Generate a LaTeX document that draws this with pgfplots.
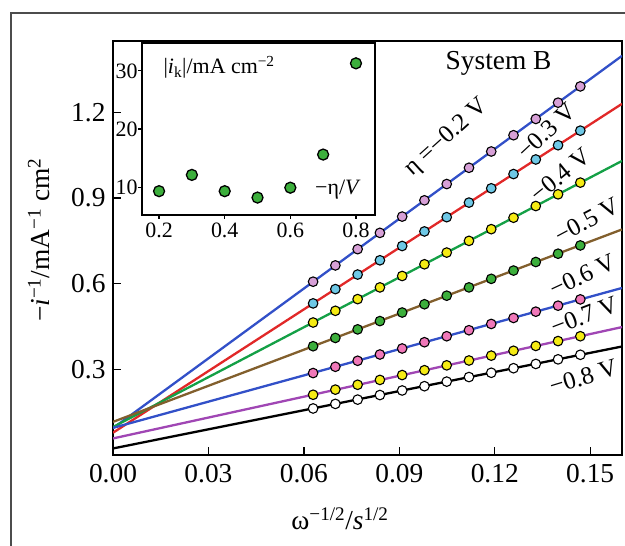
\documentclass[border=0pt]{standalone}
\usepackage{pgfplots}
\pgfplotsset{compat=1.18}
\usepackage{fontspec}
\setmainfont{Liberation Serif}

\definecolor{lblue}{RGB}{50,80,200}
\definecolor{lred}{RGB}{225,40,40}
\definecolor{lgreen}{RGB}{20,160,70}
\definecolor{lbrown}{RGB}{130,95,45}
\definecolor{lpurple}{RGB}{160,70,180}
\definecolor{mpink}{RGB}{215,160,215}
\definecolor{mcyan}{RGB}{110,200,230}
\definecolor{myellow}{RGB}{245,235,20}
\definecolor{mgreen}{RGB}{60,175,60}
\definecolor{mrose}{RGB}{240,120,185}

\newcommand\fbig{\fontsize{27.5}{32}\selectfont}
\newcommand\fmid{\fontsize{25}{29}\selectfont}
\newcommand\fsmall{\fontsize{22}{26}\selectfont}

\pgfplotsset{
  ln/.style={line width=2.3bp, #1},
  mk/.style={only marks, mark=*, mark size=4.8bp,
    mark options={fill=#1, draw=black, line width=1.1bp}},
}

\begin{document}
\begin{tikzpicture}
\path[use as bounding box] (0bp,0bp) rectangle (625bp,546bp);
\draw[line width=1.3bp, black!70] (11bp,0bp) -- (11bp,533bp) -- (626bp,533bp);

\begin{axis}[
  at={(113bp,91bp)}, anchor=south west,
  width=509bp, height=414bp, scale only axis,
  xmin=0, xmax=0.16, ymin=0, ymax=1.45,
  xtick={0,0.03,0.06,0.09,0.12,0.15},
  ytick={0.3,0.6,0.9,1.2},
  xtick pos=bottom, ytick pos=left, tick align=inside,
  major tick length=8bp,
  axis line style={line width=1.4bp},
  every tick/.style={line width=1.3bp, black},
  tick label style={font=\fbig},
  /pgf/number format/assume math mode=true,
  xticklabel style={yshift=-6bp, /pgf/number format/.cd, fixed, fixed zerofill, precision=2},
  yticklabel style={xshift=-4bp, /pgf/number format/.cd, fixed, fixed zerofill, precision=1},
  clip=true,
]
% fitted lines
\addplot[ln=lblue] coordinates {(0,0.094) (0.16,1.398)};
\addplot[ln=lred] coordinates {(0,0.078) (0.16,1.230)};
\addplot[ln=lgreen] coordinates {(0,0.098) (0.16,1.030)};
\addplot[ln=lbrown] coordinates {(0,0.116) (0.16,0.790)};
\addplot[ln=lblue] coordinates {(0,0.095) (0.16,0.585)};
\addplot[ln=lpurple] coordinates {(0,0.058) (0.16,0.448)};
\addplot[ln=black] coordinates {(0,0.023) (0.16,0.380)};

% measured points
\addplot[mk=mpink] coordinates {(0.0629,0.607) (0.0699,0.664) (0.0769,0.721) (0.0839,0.778) (0.0909,0.835) (0.0979,0.892) (0.1049,0.949) (0.1119,1.006) (0.1189,1.063) (0.1259,1.120) (0.1329,1.177) (0.1399,1.234) (0.1469,1.291)};
\addplot[mk=mcyan] coordinates {(0.0629,0.531) (0.0699,0.581) (0.0769,0.632) (0.0839,0.682) (0.0909,0.732) (0.0979,0.783) (0.1049,0.833) (0.1119,0.884) (0.1189,0.934) (0.1259,0.984) (0.1329,1.035) (0.1399,1.085) (0.1469,1.136)};
\addplot[mk=myellow] coordinates {(0.0629,0.464) (0.0699,0.505) (0.0769,0.546) (0.0839,0.587) (0.0909,0.627) (0.0979,0.668) (0.1049,0.709) (0.1119,0.750) (0.1189,0.791) (0.1259,0.831) (0.1329,0.872) (0.1399,0.913) (0.1469,0.954)};
\addplot[mk=mgreen] coordinates {(0.0629,0.381) (0.0699,0.410) (0.0769,0.440) (0.0839,0.469) (0.0909,0.499) (0.0979,0.528) (0.1049,0.558) (0.1119,0.587) (0.1189,0.617) (0.1259,0.646) (0.1329,0.676) (0.1399,0.705) (0.1469,0.734)};
\addplot[mk=mrose] coordinates {(0.0629,0.287) (0.0699,0.309) (0.0769,0.330) (0.0839,0.352) (0.0909,0.373) (0.0979,0.395) (0.1049,0.416) (0.1119,0.437) (0.1189,0.459) (0.1259,0.480) (0.1329,0.502) (0.1399,0.523) (0.1469,0.545)};
\addplot[mk=myellow] coordinates {(0.0629,0.211) (0.0699,0.229) (0.0769,0.246) (0.0839,0.263) (0.0909,0.280) (0.0979,0.297) (0.1049,0.314) (0.1119,0.331) (0.1189,0.348) (0.1259,0.365) (0.1329,0.382) (0.1399,0.399) (0.1469,0.416)};
\addplot[mk=white] coordinates {(0.0629,0.163) (0.0699,0.179) (0.0769,0.194) (0.0839,0.210) (0.0909,0.226) (0.0979,0.241) (0.1049,0.257) (0.1119,0.273) (0.1189,0.288) (0.1259,0.304) (0.1329,0.319) (0.1399,0.335) (0.1469,0.351)};

\node[font=\fbig] at (axis cs:0.1212,1.371) {System B};
\node[font=\fmid, rotate=42] at (axis cs:0.1049,1.110) {η =−0.2 V};
\node[font=\fmid, rotate=43] at (axis cs:0.1362,1.134) {−0.3 V};
\node[font=\fmid, rotate=39] at (axis cs:0.1406,0.980) {−0.4 V};
\node[font=\fmid, rotate=28] at (axis cs:0.1490,0.821) {−0.5 V};
\node[font=\fmid, rotate=25] at (axis cs:0.1475,0.628) {−0.6 V};
\node[font=\fmid, rotate=21] at (axis cs:0.1481,0.488) {−0.7 V};
\node[font=\fmid, rotate=17] at (axis cs:0.1478,0.273) {−0.8 V};
\end{axis}

\node[font=\fbig, rotate=90] at (39bp,306bp) {−\textit{i}\textsuperscript{−1}/mA\textsuperscript{−1} cm\textsuperscript{2}};
\node[font=\fbig] at (340bp,27bp) {ω\textsuperscript{−1/2}/\textit{s}\textsuperscript{1/2}};

% inset
\begin{axis}[
  at={(142bp,331bp)}, anchor=south west,
  width=233bp, height=172bp, scale only axis,
  xmin=0.148, xmax=0.858, ymin=5.2, ymax=34.8,
  xtick={0.2,0.4,0.6,0.8}, ytick={10,20,30},
  xtick pos=bottom, ytick pos=left, tick align=outside,
  major tick length=4bp,
  axis line style={line width=1.3bp},
  every tick/.style={line width=1.2bp, black},
  tick label style={font=\fsmall},
  yticklabel style={xshift=3bp},
  /pgf/number format/assume math mode=true,
  xticklabel style={/pgf/number format/.cd, fixed, fixed zerofill, precision=1},
  axis background/.style={fill=white},
]
\addplot[only marks, mark=*, mark size=5.5bp, mark options={fill=mgreen, draw=black, line width=1.3bp}]
  coordinates {(0.2,9.3) (0.3,12.1) (0.4,9.3) (0.5,8.2) (0.6,9.9) (0.7,15.6) (0.8,31.3)};
\node[font=\fsmall] at (axis cs:0.383,30.6) {|\textit{i}\textsubscript{k}|/mA cm\textsuperscript{−2}};
\node[font=\fsmall] at (axis cs:0.745,9.5) {−η/\textit{V}};
\end{axis}
\end{tikzpicture}
\end{document}
